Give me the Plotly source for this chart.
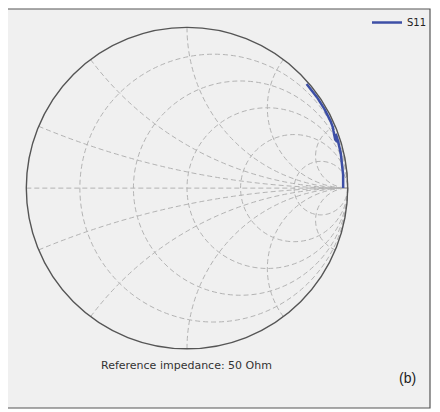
import plotly.graph_objects as go

# S11 normalized impedance (z = Z/50)
s11_real = [70.0, 6.2, 1.5, 0.80, 0.53, 0.34, 0.25, 0.50, 0.60, 0.32, 0.22, 0.15, 0.098, 0.072, 0.053]
s11_imag = [0.0, 21.3, 11.2, 9.0, 7.55, 6.5, 5.66, 6.6, 6.2, 5.3, 5.0, 4.5, 3.73, 3.17, 2.67]

real_grid = [0.2, 0.5, 1, 2, 5]
imag_grid = [-5, -2, -1, -0.5, -0.2, 0, 0.2, 0.5, 1, 2, 5]
series_name = "S11"
ref_note = "Reference impedance: 50 Ohm"
panel_label = "(b)"

OFF = 8  # page body margin
W, H = 440 - OFF, 412 - OFF
cx, cy, R = 187 - OFF, 187 - OFF, 161.5


def px(x):
    return (x - OFF) / W


def py(y):
    return 1 - (y - OFF) / H


fig = go.Figure()
fig.add_trace(go.Scattersmith(
    real=s11_real, imag=s11_imag, mode="lines", name=series_name,
    line=dict(color="#3d4fa6", width=2.5),
))

grid = dict(showgrid=True, gridcolor="#b3b3b3", griddash="5px,3px", gridwidth=1.4,
            showticklabels=False, ticks="")
fig.update_layout(
    width=W, height=H,
    margin=dict(l=0, r=0, t=0, b=0),
    paper_bgcolor="white",
    showlegend=True,
    smith=dict(
        domain=dict(x=[(cx - R) / W, (cx + R) / W], y=[1 - (cy + R) / H, 1 - (cy - R) / H]),
        bgcolor="#f0f0f0",
        realaxis=dict(tickvals=real_grid, showline=False, **grid),
        imaginaryaxis=dict(tickvals=imag_grid, showline=True, linecolor="#555555", linewidth=1.4, **grid),
    ),
    legend=dict(x=px(367), y=py(6), xanchor="left", yanchor="top", bgcolor="rgba(0,0,0,0)",
                font=dict(family="DejaVu Sans", size=10, color="#222222")),
    shapes=[
        dict(type="rect", xref="paper", yref="paper", x0=px(7), x1=px(430), y0=py(408), y1=py(7),
             fillcolor="#f0f0f0", line=dict(color="#555555", width=1.2), layer="below"),
    ],
    annotations=[
        dict(text=ref_note, x=px(186), y=py(365), xref="paper", yref="paper", showarrow=False,
             xanchor="center", yanchor="middle",
             font=dict(family="DejaVu Sans", size=11, color="#333333")),
        dict(text=panel_label, x=px(407), y=py(378), xref="paper", yref="paper", showarrow=False,
             xanchor="center", yanchor="middle",
             font=dict(family="Liberation Sans", size=14, color="#222222")),
    ],
)
fig.write_html("out.html")
